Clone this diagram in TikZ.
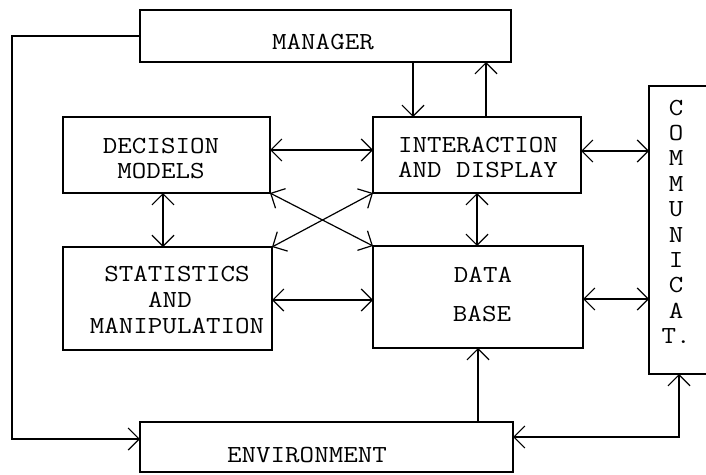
\documentclass[tikz,border=0pt]{standalone}
\usepackage{fontspec}
\setmonofont{Latin Modern Mono}[FakeStretch=1.15]
\usetikzlibrary{arrows.meta}
\begin{document}
\begin{tikzpicture}[x=1pt,y=-1pt,
  box/.style={draw,line width=1.3pt,inner sep=0pt,outer sep=0pt},
  lbl/.style={font=\fontsize{24.5}{26}\selectfont\ttfamily,inner sep=0pt,anchor=base},
  conn/.style={line width=1.2pt,line join=miter},
  arr/.style={conn,-{Straight Barb[length=11pt,width=22pt]}},
  darr/.style={conn,{Straight Barb[length=11pt,width=22pt]}-{Straight Barb[length=11pt,width=22pt]}}
]
\useasboundingbox (0,0) rectangle (706,474);
\clip (0,0) rectangle (706,474);
\fill[white] (0,0) rectangle (706,474);

% boxes
\node[box,minimum width=371pt,minimum height=52pt] (mgr) at (325.5,36) {};
\node[box,minimum width=207pt,minimum height=76pt] (dec) at (166.5,155) {};
\node[box,minimum width=208pt,minimum height=76pt] (int) at (477,155) {};
\node[box,minimum width=209pt,minimum height=103pt] (sta) at (167.5,298.5) {};
\node[box,minimum width=210pt,minimum height=102pt] (db) at (478,297) {};
\node[box,minimum width=373pt,minimum height=50pt] (env) at (326.5,447) {};
\node[box,minimum width=111pt,minimum height=288pt] (comm) at (704.5,230) {};

% labels
\node[lbl] (tmgr) at (323,49) {MANAGER};
\node[lbl] (tdec1) at (161,153) {DECISION};
\node[lbl] (tdec2) at (161,178) {MODELS};
\node[lbl] (tint1) at (478,152) {INTERACTION};
\node[lbl] (tint2) at (478,177) {AND DISPLAY};
\node[lbl] (tsta1) at (177,281) {STATISTICS};
\node[lbl] (tsta2) at (170,307) {AND};
\node[lbl] (tsta3) at (177,333) {MANIPULATION};
\node[lbl] (tdb1) at (483,282) {DATA};
\node[lbl] (tdb2) at (482,321) {BASE};
\node[lbl] (tenv) at (307,462) {ENVIRONMENT};
\foreach \ch [count=\i from 0] in {C,O,M,M,U,N,I,C,A,T.}{
  \node[lbl] (tc\i) at (676,115+25.4*\i) {\ch};
}

% helper coordinates
\coordinate (ma) at (413,0);
\coordinate (mb) at (486,0);
\coordinate (ya) at (0,150);
\coordinate (yb) at (0,151);
\coordinate (xc) at (163,0);
\coordinate (yc) at (0,300);
\coordinate (yd) at (0,299);
\coordinate (lt) at (12,36);
\coordinate (lb) at (12,439);
\coordinate (er) at (679,437);

% connectors
\draw[arr] (mgr.west) -- (lt) -- (lb) -- (env.west |- lb);
\draw[arr] (mgr.south -| ma) -- (int.north -| ma);
\draw[arr] (int.north -| mb) -- (mgr.south -| mb);
\draw[darr] (dec.east |- ya) -- (int.west |- ya);
\draw[darr] (int.east |- yb) -- (comm.west |- yb);
\draw[darr] (dec.south -| xc) -- (sta.north -| xc);
\draw[darr] (int.south) -- (int.south |- db.north);
\draw[darr] (sta.east |- yc) -- (db.west |- yc);
\draw[darr] (db.east |- yd) -- (comm.west |- yd);
\draw[arr] (env.north -| db.south) -- (db.south);
\draw[darr] (env.east |- er) -- (er) -- (comm.south -| er);
\draw[darr] (dec.south east) -- (db.north west);
\draw[darr] (int.south west) -- (sta.north east);
\end{tikzpicture}
\end{document}
